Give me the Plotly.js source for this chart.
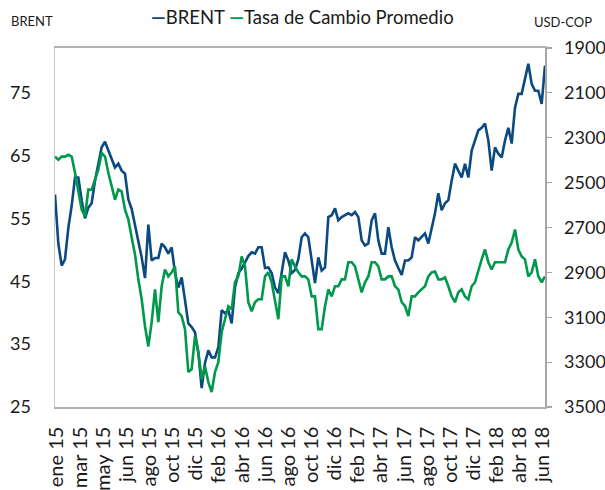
<!DOCTYPE html>
<html>
<head>
<meta charset="utf-8">
<script src="https://cdn.plot.ly/plotly-3.0.1.min.js"></script>
<style>html,body{margin:0;padding:0;background:#fff;}#chart{width:605px;height:490px;}</style>
</head>
<body>
<div id="chart"></div>
<script>
// Tick labels (every ~2 months of trading days)
const tickLabels = ["ene 15","mar 15","may 15","jun 15","ago 15","oct 15","dic 15","feb 16","abr 16","jun 16","ago 16","oct 16","dic 16","feb 17","abr 17","jun 17","ago 17","oct 17","dic 17","feb 18","abr 18","jun 18"];

// BRENT (USD/barril), left axis
const brent = [58.8,51.0,47.5,48.5,53.5,57.0,61.5,61.5,57.9,55.0,56.7,57.4,61.0,63.7,66.3,67.2,65.8,64.2,63.1,63.7,
62.6,62.1,58.0,56.5,54.0,51.0,48.8,45.5,54.0,48.3,48.7,48.7,51.0,50.4,49.4,50.4,46.3,44.0,45.6,42.0,
38.3,37.7,36.9,33.6,28.0,32.0,34.0,32.9,32.9,34.5,40.4,39.9,40.4,38.3,44.0,46.3,47.0,48.0,49.0,49.6,
49.4,50.4,50.4,47.1,47.2,46.3,44.0,43.1,46.7,49.6,48.3,46.3,46.8,48.5,52.0,52.6,52.0,47.9,44.7,48.8,
46.7,47.2,55.2,55.5,56.6,54.7,55.2,55.5,55.8,55.5,56.0,55.2,51.5,50.7,51.0,54.7,55.8,51.5,49.4,49.4,
53.6,50.4,48.3,47.1,46.0,48.3,48.3,48.8,52.0,51.5,52.0,52.6,51.0,53.6,55.8,59.0,56.3,57.4,57.9,61.0,
63.7,62.6,61.5,63.7,61.5,65.8,67.4,69.0,69.4,70.1,67.4,62.6,66.3,65.3,64.7,67.4,69.4,66.9,72.6,74.8,
74.8,77.4,79.6,76.4,75.3,75.3,73.2,79.3];

// Tasa de Cambio Promedio (USD-COP), right axis (reversed)
const cop = [2384,2398,2384,2384,2376,2384,2456,2531,2620,2651,2531,2531,2487,2442,2367,2384,2456,2518,2576,2531,
2540,2620,2664,2744,2820,2931,3020,3140,3230,3122,2976,3122,2962,2887,2918,2900,2873,3078,3095,3153,
3344,3331,3184,3255,3376,3318,3389,3433,3344,3300,3167,3109,3051,3064,2944,2918,2829,2873,3033,3073,
3033,3020,3020,2918,2900,2944,3020,3109,2918,2918,2962,2842,2873,2900,2918,2918,2931,3007,3007,3153,
3153,3051,2976,3007,2962,2962,2931,2931,2855,2855,2873,2931,2989,2944,2918,2855,2855,2873,2931,2931,
2918,2918,2962,2976,3033,3050,3095,3007,3007,2989,2976,2962,2918,2900,2896,2931,2931,2922,2962,3007,
3033,2989,2976,3007,3020,2962,2944,2887,2842,2798,2855,2887,2855,2855,2855,2855,2798,2767,2709,2798,
2829,2842,2918,2900,2842,2918,2944,2918];

const idx = brent.map((_, i) => i);
const nPts = brent.length;
// label positions spread evenly across the category axis
const tickVals = tickLabels.map((_, j) => 0.6 + j * ((nPts - 1 - 1.2) / (tickLabels.length - 1)));

const blue = "#0B4A80";
const green = "#00984A";
const font = "Lato, 'Open Sans', sans-serif";

const traces = [
  {x: idx, y: brent, type: "scatter", mode: "lines", name: "BRENT",
   line: {color: blue, width: 2.6}, yaxis: "y", showlegend: false, hoverinfo: "skip"},
  {x: idx, y: cop, type: "scatter", mode: "lines", name: "Tasa de Cambio Promedio",
   line: {color: green, width: 2.6}, yaxis: "y2", showlegend: false, hoverinfo: "skip"}
];

const layout = {
  width: 605, height: 490,
  margin: {l: 55, r: 60, t: 48, b: 83},
  paper_bgcolor: "#fff", plot_bgcolor: "#fff",
  font: {family: font, color: "#1a1a1a"},
  xaxis: {
    range: [0, nPts - 1], tickmode: "array", tickvals: tickVals, ticktext: tickLabels,
    tickangle: -90, tickfont: {size: 20, family: font, color: "#1a1a1a"},
    showgrid: false, zeroline: false, showline: true, linecolor: "#B0B0B0", linewidth: 1.6,
    mirror: true, ticks: "", ticklabelstandoff: 10
  },
  yaxis: {
    range: [25, 82.1], tickmode: "array", tickvals: [25, 35, 45, 55, 65, 75],
    tickfont: {size: 18, family: font, color: "#1a1a1a"},
    showgrid: false, zeroline: false, showline: true, linecolor: "#C8C8C8", linewidth: 1.5,
    ticks: "", ticklabelstandoff: 19
  },
  yaxis2: {
    overlaying: "y", side: "right", range: [3500, 1900], tickmode: "array",
    tickvals: [1900, 2100, 2300, 2500, 2700, 2900, 3100, 3300, 3500],
    tickfont: {size: 18, family: font, color: "#1a1a1a"},
    showgrid: false, zeroline: false, showline: true, linecolor: "#A6A6A6", linewidth: 1.5,
    ticks: "outside", ticklen: 5, tickcolor: "#A6A6A6", tickwidth: 1.2, ticklabelstandoff: 9
  },
  annotations: [
    {xref: "paper", yref: "paper", x: -0.047, y: 1.075, xanchor: "center", yanchor: "middle",
     text: "BRENT", showarrow: false, font: {size: 13, family: font, color: "#1a1a1a"}},
    {xref: "paper", yref: "paper", x: 1.037, y: 1.072, xanchor: "center", yanchor: "middle",
     text: "USD-COP", showarrow: false, font: {size: 13, family: font, color: "#1a1a1a"}},
    {xref: "paper", yref: "paper", x: 0.505, y: 1.085, xanchor: "center", yanchor: "middle",
     text: "<span style='color:" + blue + "'><b>—</b></span>BRENT <span style='color:" + green + "'><b>—</b></span>Tasa de Cambio Promedio",
     showarrow: false, font: {size: 18.5, family: font, color: "#1a1a1a"}}
  ]
};

Plotly.newPlot("chart", traces, layout, {displayModeBar: false, staticPlot: true});
</script>
</body>
</html>
